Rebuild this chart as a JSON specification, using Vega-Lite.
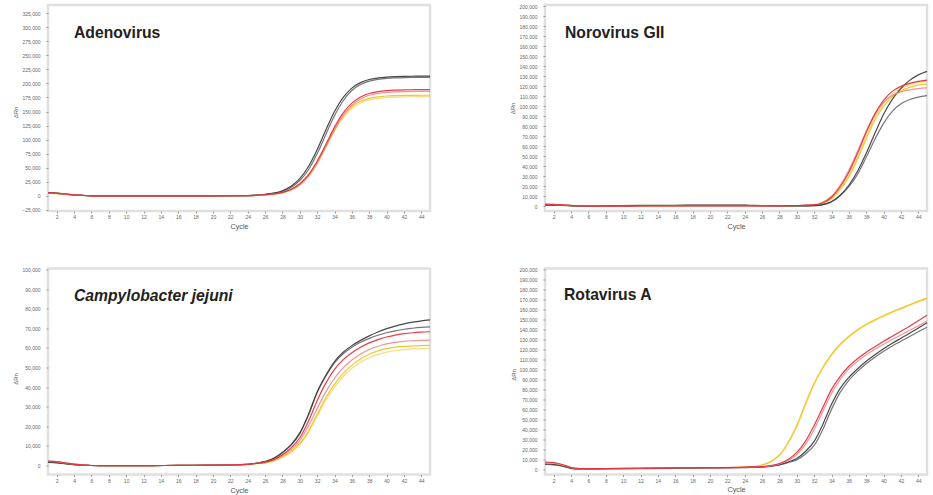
{
  "$schema": "https://vega.github.io/schema/vega-lite/v6.json",
  "background": "white",
  "padding": {"left": 10, "top": 3, "right": 0, "bottom": 0},
  "bounds": "flush",
  "columns": 2,
  "spacing": {"row": 57.5, "column": 115},
  "config": {
    "view": {"stroke": "#e0e0e0", "strokeWidth": 2.5},
    "axis": {
      "grid": false,
      "domain": false,
      "labelFont": "Liberation Sans",
      "labelFontSize": 5,
      "labelColor": "#666666",
      "tickColor": "#9a9a9a",
      "tickSize": 2,
      "titleFont": "Liberation Sans",
      "titleFontWeight": "normal",
      "titleColor": "#555555"
    },
    "axisY": {"labelPadding": 6, "titleFontSize": 6, "titleBaseline": "middle", "titleAngle": 270},
    "axisX": {"labelPadding": 1.5, "titleFontSize": 7.3, "titleBaseline": "middle", "titleY": 15},
    "title": {"anchor": "start", "frame": "group", "font": "Liberation Sans", "fontSize": 15.7, "fontWeight": "bold", "color": "#222222", "baseline": "alphabetic", "offset": 0},
    "line": {"strokeWidth": 1.2, "interpolate": "monotone", "strokeOpacity": 0.92}
  },
  "datasets": {
    "adeno": [
      {"c": 1, "k1": 5500, "k2": 5000, "r1": 5200, "r2": 4800, "y1": 4500, "y2": 4300},
      {"c": 2, "k1": 4500, "k2": 4200, "r1": 4400, "r2": 4000, "y1": 3800, "y2": 3600},
      {"c": 3, "k1": 3000, "k2": 2800, "r1": 3000, "r2": 2700, "y1": 2500, "y2": 2400},
      {"c": 4, "k1": 1500, "k2": 1400, "r1": 1500, "r2": 1300, "y1": 1200, "y2": 1100},
      {"c": 5, "k1": 500, "k2": 400, "r1": 500, "r2": 400, "y1": 300, "y2": 300},
      {"c": 6, "k1": -200, "k2": -200, "r1": -200, "r2": -200, "y1": -200, "y2": -200},
      {"c": 8, "k1": -400, "k2": -400, "r1": -400, "r2": -400, "y1": -400, "y2": -400},
      {"c": 12, "k1": -500, "k2": -500, "r1": -500, "r2": -500, "y1": -500, "y2": -500},
      {"c": 16, "k1": -500, "k2": -500, "r1": -500, "r2": -500, "y1": -500, "y2": -500},
      {"c": 20, "k1": -400, "k2": -400, "r1": -400, "r2": -400, "y1": -400, "y2": -400},
      {"c": 24, "k1": 100, "k2": 0, "r1": 0, "r2": 0, "y1": 0, "y2": 0},
      {"c": 25, "k1": 1000, "k2": 800, "r1": 600, "r2": 600, "y1": 500, "y2": 500},
      {"c": 26, "k1": 2400, "k2": 2100, "r1": 1700, "r2": 1500, "y1": 1400, "y2": 1300},
      {"c": 27, "k1": 4700, "k2": 4100, "r1": 3200, "r2": 2900, "y1": 2800, "y2": 2600},
      {"c": 28, "k1": 8900, "k2": 7700, "r1": 6000, "r2": 5500, "y1": 5500, "y2": 5100},
      {"c": 29, "k1": 16600, "k2": 14600, "r1": 11500, "r2": 10600, "y1": 10600, "y2": 9800},
      {"c": 30, "k1": 30300, "k2": 26800, "r1": 21200, "r2": 19700, "y1": 20000, "y2": 18600},
      {"c": 31, "k1": 52000, "k2": 46200, "r1": 37400, "r2": 35000, "y1": 36000, "y2": 33500},
      {"c": 32, "k1": 82000, "k2": 74700, "r1": 61400, "r2": 57800, "y1": 59800, "y2": 56400},
      {"c": 33, "k1": 117000, "k2": 109000, "r1": 91300, "r2": 86800, "y1": 89500, "y2": 85400},
      {"c": 34, "k1": 150000, "k2": 142400, "r1": 122100, "r2": 117300, "y1": 119200, "y2": 115000},
      {"c": 35, "k1": 175000, "k2": 169200, "r1": 147600, "r2": 143000, "y1": 143000, "y2": 139100},
      {"c": 36, "k1": 191700, "k2": 187400, "r1": 165000, "r2": 160700, "y1": 159000, "y2": 155500},
      {"c": 37, "k1": 201500, "k2": 198100, "r1": 176000, "r2": 172200, "y1": 168300, "y2": 165300},
      {"c": 38, "k1": 207000, "k2": 204200, "r1": 182100, "r2": 178900, "y1": 173500, "y2": 170700},
      {"c": 39, "k1": 209800, "k2": 207400, "r1": 185400, "r2": 182300, "y1": 176200, "y2": 173500},
      {"c": 40, "k1": 211400, "k2": 209200, "r1": 187100, "r2": 184100, "y1": 177600, "y2": 175000},
      {"c": 41, "k1": 212200, "k2": 210000, "r1": 188000, "r2": 185000, "y1": 178300, "y2": 175700},
      {"c": 42, "k1": 212600, "k2": 210500, "r1": 188500, "r2": 185500, "y1": 178700, "y2": 176100},
      {"c": 43, "k1": 212800, "k2": 210800, "r1": 188800, "r2": 185800, "y1": 178900, "y2": 176300},
      {"c": 44, "k1": 213000, "k2": 211000, "r1": 189000, "r2": 186000, "y1": 179000, "y2": 176500},
      {"c": 45, "k1": 213000, "k2": 211000, "r1": 189000, "r2": 186000, "y1": 179000, "y2": 176500}
    ],
    "noro": [
      {"c": 1, "k1": 1200, "k2": 1000, "r1": 2000, "r2": 1800, "y1": 1500, "y2": 1500},
      {"c": 2, "k1": 1100, "k2": 900, "r1": 1800, "r2": 1600, "y1": 1300, "y2": 1300},
      {"c": 3, "k1": 900, "k2": 700, "r1": 1300, "r2": 1200, "y1": 1000, "y2": 1000},
      {"c": 4, "k1": 600, "k2": 400, "r1": 800, "r2": 700, "y1": 600, "y2": 600},
      {"c": 5, "k1": 200, "k2": 100, "r1": 300, "r2": 300, "y1": 200, "y2": 200},
      {"c": 6, "k1": 0, "k2": 0, "r1": 0, "r2": 0, "y1": 0, "y2": 0},
      {"c": 8, "k1": 300, "k2": 200, "r1": 0, "r2": 0, "y1": 100, "y2": 100},
      {"c": 12, "k1": 800, "k2": 600, "r1": 200, "r2": 200, "y1": 300, "y2": 300},
      {"c": 16, "k1": 900, "k2": 700, "r1": 300, "r2": 300, "y1": 400, "y2": 400},
      {"c": 20, "k1": 1100, "k2": 800, "r1": 400, "r2": 400, "y1": 500, "y2": 500},
      {"c": 24, "k1": 1000, "k2": 800, "r1": 400, "r2": 400, "y1": 500, "y2": 500},
      {"c": 25, "k1": 800, "k2": 600, "r1": 400, "r2": 400, "y1": 400, "y2": 400},
      {"c": 26, "k1": 600, "k2": 500, "r1": 400, "r2": 400, "y1": 400, "y2": 400},
      {"c": 27, "k1": 400, "k2": 400, "r1": 400, "r2": 400, "y1": 400, "y2": 400},
      {"c": 28, "k1": 300, "k2": 300, "r1": 400, "r2": 400, "y1": 300, "y2": 300},
      {"c": 29, "k1": 300, "k2": 300, "r1": 500, "r2": 500, "y1": 400, "y2": 400},
      {"c": 30, "k1": 300, "k2": 300, "r1": 700, "r2": 700, "y1": 500, "y2": 500},
      {"c": 31, "k1": 400, "k2": 300, "r1": 1000, "r2": 1100, "y1": 700, "y2": 700},
      {"c": 32, "k1": 500, "k2": 500, "r1": 1300, "r2": 1500, "y1": 1000, "y2": 1100},
      {"c": 33, "k1": 1500, "k2": 1500, "r1": 3500, "r2": 4000, "y1": 2800, "y2": 3000},
      {"c": 34, "k1": 4500, "k2": 4500, "r1": 9000, "r2": 10000, "y1": 7500, "y2": 8000},
      {"c": 35, "k1": 11000, "k2": 10500, "r1": 19500, "r2": 21000, "y1": 16500, "y2": 17500},
      {"c": 36, "k1": 21000, "k2": 19500, "r1": 34000, "r2": 36000, "y1": 29500, "y2": 31000},
      {"c": 37, "k1": 35000, "k2": 32000, "r1": 53000, "r2": 55000, "y1": 47000, "y2": 49000},
      {"c": 38, "k1": 53000, "k2": 49000, "r1": 74000, "r2": 75000, "y1": 67500, "y2": 70000},
      {"c": 39, "k1": 73000, "k2": 67000, "r1": 92500, "r2": 92000, "y1": 86000, "y2": 89000},
      {"c": 40, "k1": 92000, "k2": 83000, "r1": 106000, "r2": 104000, "y1": 100000, "y2": 103000},
      {"c": 41, "k1": 107000, "k2": 95000, "r1": 115000, "r2": 111000, "y1": 109500, "y2": 112500},
      {"c": 42, "k1": 118000, "k2": 102500, "r1": 120000, "r2": 114500, "y1": 115500, "y2": 118000},
      {"c": 43, "k1": 126000, "k2": 106800, "r1": 123000, "r2": 116500, "y1": 119000, "y2": 121500},
      {"c": 44, "k1": 131500, "k2": 109300, "r1": 125000, "r2": 117800, "y1": 121200, "y2": 123800},
      {"c": 45, "k1": 135000, "k2": 110800, "r1": 126200, "r2": 118500, "y1": 122500, "y2": 125000}
    ],
    "campy": [
      {"c": 1, "k1": 1500, "k2": 1400, "r1": 2000, "r2": 1900, "y1": 1600, "y2": 1500},
      {"c": 2, "k1": 1300, "k2": 1200, "r1": 1800, "r2": 1700, "y1": 1400, "y2": 1300},
      {"c": 3, "k1": 800, "k2": 700, "r1": 1200, "r2": 1100, "y1": 800, "y2": 800},
      {"c": 4, "k1": 300, "k2": 300, "r1": 500, "r2": 500, "y1": 300, "y2": 300},
      {"c": 5, "k1": 0, "k2": 0, "r1": 100, "r2": 100, "y1": 0, "y2": 0},
      {"c": 6, "k1": -200, "k2": -200, "r1": -200, "r2": -200, "y1": -200, "y2": -200},
      {"c": 8, "k1": -300, "k2": -300, "r1": -300, "r2": -300, "y1": -300, "y2": -300},
      {"c": 12, "k1": -300, "k2": -300, "r1": -300, "r2": -300, "y1": -300, "y2": -300},
      {"c": 16, "k1": -100, "k2": -100, "r1": -100, "r2": -100, "y1": -100, "y2": -100},
      {"c": 20, "k1": 0, "k2": 0, "r1": 0, "r2": 0, "y1": 0, "y2": 0},
      {"c": 24, "k1": 400, "k2": 400, "r1": 400, "r2": 400, "y1": 400, "y2": 400},
      {"c": 25, "k1": 1000, "k2": 1000, "r1": 900, "r2": 900, "y1": 800, "y2": 800},
      {"c": 26, "k1": 1800, "k2": 1800, "r1": 1500, "r2": 1400, "y1": 1200, "y2": 1100},
      {"c": 27, "k1": 3500, "k2": 3400, "r1": 2800, "r2": 2600, "y1": 2300, "y2": 2100},
      {"c": 28, "k1": 6500, "k2": 6300, "r1": 5300, "r2": 4800, "y1": 4200, "y2": 3900},
      {"c": 29, "k1": 10500, "k2": 10200, "r1": 8800, "r2": 8000, "y1": 7000, "y2": 6600},
      {"c": 30, "k1": 16500, "k2": 16000, "r1": 14000, "r2": 12500, "y1": 11000, "y2": 10500},
      {"c": 31, "k1": 26000, "k2": 25500, "r1": 22500, "r2": 20000, "y1": 17500, "y2": 16800},
      {"c": 32, "k1": 37500, "k2": 37000, "r1": 33000, "r2": 29000, "y1": 26000, "y2": 25000},
      {"c": 33, "k1": 46000, "k2": 45500, "r1": 42000, "r2": 37500, "y1": 34500, "y2": 33200},
      {"c": 34, "k1": 53000, "k2": 52300, "r1": 49000, "r2": 44500, "y1": 41500, "y2": 40000},
      {"c": 35, "k1": 57800, "k2": 57000, "r1": 54000, "r2": 49800, "y1": 47000, "y2": 45400},
      {"c": 36, "k1": 61200, "k2": 60400, "r1": 57600, "r2": 53800, "y1": 51200, "y2": 49500},
      {"c": 37, "k1": 63900, "k2": 62900, "r1": 60400, "r2": 56900, "y1": 54400, "y2": 52700},
      {"c": 38, "k1": 66200, "k2": 64900, "r1": 62600, "r2": 59200, "y1": 56800, "y2": 55000},
      {"c": 39, "k1": 68200, "k2": 66500, "r1": 64300, "r2": 60900, "y1": 58500, "y2": 56700},
      {"c": 40, "k1": 69900, "k2": 67800, "r1": 65600, "r2": 62100, "y1": 59700, "y2": 57900},
      {"c": 41, "k1": 71200, "k2": 68800, "r1": 66600, "r2": 62900, "y1": 60400, "y2": 58700},
      {"c": 42, "k1": 72300, "k2": 69600, "r1": 67300, "r2": 63400, "y1": 60800, "y2": 59200},
      {"c": 43, "k1": 73200, "k2": 70100, "r1": 67800, "r2": 63700, "y1": 61000, "y2": 59500},
      {"c": 44, "k1": 73900, "k2": 70500, "r1": 68100, "r2": 63900, "y1": 61200, "y2": 59700},
      {"c": 45, "k1": 74400, "k2": 70800, "r1": 68300, "r2": 64000, "y1": 61300, "y2": 59800}
    ],
    "rota": [
      {"c": 1, "k1": 5500, "k2": 5000, "r1": 7500, "r2": 7000, "y1": 7000, "y2": 6500},
      {"c": 2, "k1": 5000, "k2": 4500, "r1": 7000, "r2": 6500, "y1": 6500, "y2": 6000},
      {"c": 3, "k1": 3500, "k2": 3200, "r1": 5000, "r2": 4500, "y1": 4500, "y2": 4200},
      {"c": 4, "k1": 1200, "k2": 1000, "r1": 2000, "r2": 1800, "y1": 1800, "y2": 1600},
      {"c": 5, "k1": 600, "k2": 500, "r1": 1000, "r2": 900, "y1": 900, "y2": 800},
      {"c": 6, "k1": 600, "k2": 500, "r1": 900, "r2": 800, "y1": 800, "y2": 700},
      {"c": 8, "k1": 800, "k2": 700, "r1": 1000, "r2": 900, "y1": 900, "y2": 800},
      {"c": 12, "k1": 1000, "k2": 900, "r1": 1300, "r2": 1200, "y1": 1200, "y2": 1100},
      {"c": 16, "k1": 1300, "k2": 1200, "r1": 1700, "r2": 1600, "y1": 1500, "y2": 1400},
      {"c": 20, "k1": 1600, "k2": 1500, "r1": 1800, "r2": 1700, "y1": 1700, "y2": 1600},
      {"c": 24, "k1": 2000, "k2": 1900, "r1": 2300, "r2": 2200, "y1": 2500, "y2": 2400},
      {"c": 25, "k1": 2200, "k2": 2100, "r1": 2600, "r2": 2500, "y1": 3000, "y2": 2900},
      {"c": 26, "k1": 2500, "k2": 2400, "r1": 3000, "r2": 2800, "y1": 4500, "y2": 4300},
      {"c": 27, "k1": 3300, "k2": 3100, "r1": 4000, "r2": 3700, "y1": 8000, "y2": 7600},
      {"c": 28, "k1": 4800, "k2": 4500, "r1": 6000, "r2": 5500, "y1": 14500, "y2": 13800},
      {"c": 29, "k1": 7500, "k2": 6800, "r1": 10000, "r2": 9000, "y1": 27000, "y2": 26000},
      {"c": 30, "k1": 11000, "k2": 9500, "r1": 17000, "r2": 15000, "y1": 44000, "y2": 42500},
      {"c": 31, "k1": 18000, "k2": 15500, "r1": 28000, "r2": 25000, "y1": 66000, "y2": 64000},
      {"c": 32, "k1": 28000, "k2": 24000, "r1": 44000, "r2": 40000, "y1": 86000, "y2": 84500},
      {"c": 33, "k1": 45000, "k2": 40000, "r1": 62000, "r2": 58000, "y1": 102000, "y2": 101000},
      {"c": 34, "k1": 65000, "k2": 60000, "r1": 80000, "r2": 76000, "y1": 115000, "y2": 114000},
      {"c": 35, "k1": 81000, "k2": 77000, "r1": 93000, "r2": 90000, "y1": 125000, "y2": 124200},
      {"c": 36, "k1": 92000, "k2": 89000, "r1": 103000, "r2": 100500, "y1": 133000, "y2": 132200},
      {"c": 37, "k1": 100500, "k2": 98000, "r1": 110500, "r2": 108000, "y1": 139500, "y2": 138700},
      {"c": 38, "k1": 108000, "k2": 105500, "r1": 117000, "r2": 114500, "y1": 145000, "y2": 144200},
      {"c": 39, "k1": 114500, "k2": 112000, "r1": 122500, "r2": 120000, "y1": 149500, "y2": 148800},
      {"c": 40, "k1": 120500, "k2": 118000, "r1": 128000, "r2": 125000, "y1": 153500, "y2": 152800},
      {"c": 41, "k1": 126000, "k2": 123200, "r1": 133000, "r2": 129700, "y1": 157500, "y2": 156800},
      {"c": 42, "k1": 131000, "k2": 128000, "r1": 138000, "r2": 134300, "y1": 161000, "y2": 160300},
      {"c": 43, "k1": 136000, "k2": 132800, "r1": 143000, "r2": 138900, "y1": 164500, "y2": 163800},
      {"c": 44, "k1": 141200, "k2": 137500, "r1": 148500, "r2": 143500, "y1": 168000, "y2": 167300},
      {"c": 45, "k1": 146500, "k2": 142000, "r1": 154000, "r2": 148000, "y1": 171000, "y2": 170300}
    ]
  },
  "concat": [
    {
      "width": 382, "height": 206,
      "title": {"text": "Adenovirus", "dx": 26, "dy": 41},
      "data": {"name": "adeno"},
      "transform": [{"fold": ["y2", "y1", "k2", "k1", "r2", "r1"], "as": ["s", "v"]}],
      "mark": {"type": "line"},
      "encoding": {
        "x": {"field": "c", "type": "quantitative", "scale": {"domain": [1, 45], "nice": false, "zero": false},
          "axis": {"values": [2, 4, 6, 8, 10, 12, 14, 16, 18, 20, 22, 24, 26, 28, 30, 32, 34, 36, 38, 40, 42, 44], "title": "Cycle"}},
        "y": {"field": "v", "type": "quantitative", "scale": {"domain": [-27300, 339800], "nice": false, "zero": false},
          "axis": {"values": [-25000, 0, 25000, 50000, 75000, 100000, 125000, 150000, 175000, 200000, 225000, 250000, 275000, 300000, 325000], "format": ",d", "title": "ΔRn", "titleX": -33, "titleY": 107}},
        "color": {"field": "s", "type": "nominal", "legend": null,
          "scale": {"domain": ["k1", "k2", "r1", "r2", "y1", "y2"], "range": ["#3a3a3a", "#6a6a6a", "#e02e3a", "#f08a8f", "#f2c21b", "#f8d870"]}}
      }
    },
    {
      "width": 382, "height": 206,
      "title": {"text": "Norovirus GII", "dx": 20, "dy": 41},
      "data": {"name": "noro"},
      "transform": [{"fold": ["y2", "y1", "k2", "k1", "r2", "r1"], "as": ["s", "v"]}],
      "mark": {"type": "line"},
      "encoding": {
        "x": {"field": "c", "type": "quantitative", "scale": {"domain": [1, 45], "nice": false, "zero": false},
          "axis": {"values": [2, 4, 6, 8, 10, 12, 14, 16, 18, 20, 22, 24, 26, 28, 30, 32, 34, 36, 38, 40, 42, 44], "title": "Cycle"}},
        "y": {"field": "v", "type": "quantitative", "scale": {"domain": [-4800, 201500], "nice": false, "zero": false},
          "axis": {"values": [0, 10000, 20000, 30000, 40000, 50000, 60000, 70000, 80000, 90000, 100000, 110000, 120000, 130000, 140000, 150000, 160000, 170000, 180000, 190000, 200000], "format": ",d", "title": "ΔRn", "titleX": -33, "titleY": 103}},
        "color": {"field": "s", "type": "nominal", "legend": null,
          "scale": {"domain": ["k1", "k2", "r1", "r2", "y1", "y2"], "range": ["#3a3a3a", "#6a6a6a", "#e02e3a", "#f08a8f", "#f2c21b", "#f0a030"]}}
      }
    },
    {
      "width": 382, "height": 206,
      "title": {"text": "Campylobacter jejuni", "dx": 26, "dy": 41, "fontStyle": "italic"},
      "data": {"name": "campy"},
      "transform": [{"fold": ["y2", "y1", "k2", "k1", "r2", "r1"], "as": ["s", "v"]}],
      "mark": {"type": "line"},
      "encoding": {
        "x": {"field": "c", "type": "quantitative", "scale": {"domain": [1, 45], "nice": false, "zero": false},
          "axis": {"values": [2, 4, 6, 8, 10, 12, 14, 16, 18, 20, 22, 24, 26, 28, 30, 32, 34, 36, 38, 40, 42, 44], "title": "Cycle", "titleY": 16}},
        "y": {"field": "v", "type": "quantitative", "scale": {"domain": [-4800, 100700], "nice": false, "zero": false},
          "axis": {"values": [0, 10000, 20000, 30000, 40000, 50000, 60000, 70000, 80000, 90000, 100000], "format": ",d", "title": "ΔRn", "titleX": -33, "titleY": 110}},
        "color": {"field": "s", "type": "nominal", "legend": null,
          "scale": {"domain": ["k1", "k2", "r1", "r2", "y1", "y2"], "range": ["#3a3a3a", "#6a6a6a", "#e02e3a", "#f08a8f", "#f2c21b", "#f8d870"]}}
      }
    },
    {
      "width": 382, "height": 206,
      "title": {"text": "Rotavirus A", "dx": 19, "dy": 41},
      "data": {"name": "rota"},
      "transform": [{"fold": ["y2", "y1", "k2", "k1", "r2", "r1"], "as": ["s", "v"]}],
      "mark": {"type": "line"},
      "encoding": {
        "x": {"field": "c", "type": "quantitative", "scale": {"domain": [1, 45], "nice": false, "zero": false},
          "axis": {"values": [2, 4, 6, 8, 10, 12, 14, 16, 18, 20, 22, 24, 26, 28, 30, 32, 34, 36, 38, 40, 42, 44], "title": "Cycle"}},
        "y": {"field": "v", "type": "quantitative", "scale": {"domain": [-5000, 200600], "nice": false, "zero": false},
          "axis": {"values": [0, 10000, 20000, 30000, 40000, 50000, 60000, 70000, 80000, 90000, 100000, 110000, 120000, 130000, 140000, 150000, 160000, 170000, 180000, 190000, 200000], "format": ",d", "title": "ΔRn", "titleX": -32, "titleY": 106}},
        "color": {"field": "s", "type": "nominal", "legend": null,
          "scale": {"domain": ["k1", "k2", "r1", "r2", "y1", "y2"], "range": ["#3a3a3a", "#6a6a6a", "#e02e3a", "#f08a8f", "#f2c21b", "#f5c000"]}}
      }
    }
  ]
}
